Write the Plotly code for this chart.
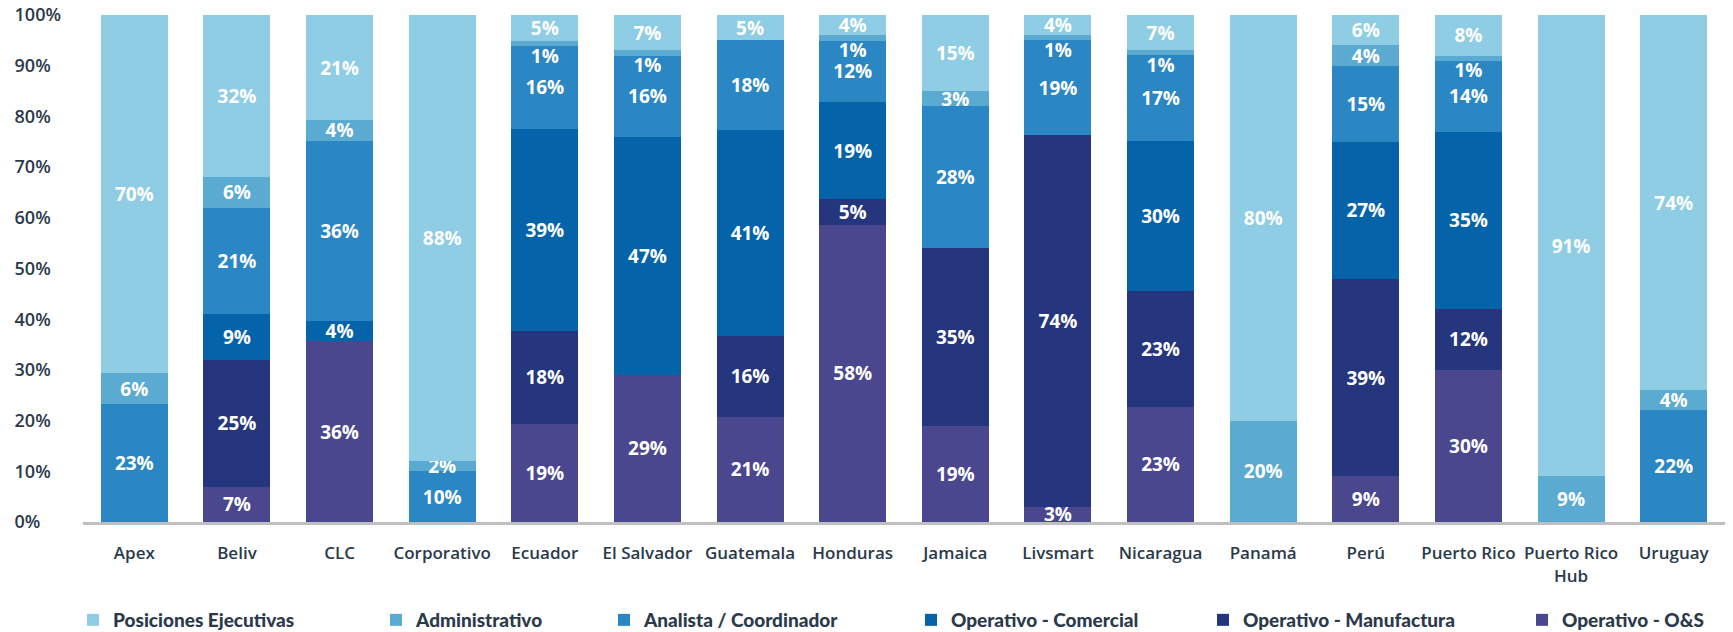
import plotly.graph_objects as go

categories = ["Apex", "Beliv", "CLC", "Corporativo", "Ecuador", "El Salvador", "Guatemala",
              "Honduras", "Jamaica", "Livsmart", "Nicaragua", "Panamá", "Perú", "Puerto Rico",
              "Puerto Rico<br>Hub", "Uruguay"]

operativo_os = [0, 7, 36, 0, 19, 29, 21, 58, 19, 3, 23, 0, 9, 30, 0, 0]
operativo_manufactura = [0, 25, 0, 0, 18, 0, 16, 5, 35, 74, 23, 0, 39, 12, 0, 0]
operativo_comercial = [0, 9, 4, 0, 39, 47, 41, 19, 0, 0, 30, 0, 27, 35, 0, 0]
analista_coordinador = [23, 21, 36, 10, 16, 16, 18, 12, 28, 19, 17, 0, 15, 14, 0, 22]
administrativo = [6, 6, 4, 2, 1, 1, 0, 1, 3, 1, 1, 20, 4, 1, 9, 4]
posiciones_ejecutivas = [70, 32, 21, 88, 5, 7, 5, 4, 15, 4, 7, 80, 6, 8, 91, 74]

series = [
    ("Operativo - O&S", operativo_os, "#4A478F"),
    ("Operativo - Manufactura", operativo_manufactura, "#26367E"),
    ("Operativo - Comercial", operativo_comercial, "#0563AA"),
    ("Analista / Coordinador", analista_coordinador, "#2A87C3"),
    ("Administrativo", administrativo, "#5BAAD1"),
    ("Posiciones Ejecutivas", posiciones_ejecutivas, "#8ECDE4"),
]

# legend placement (left edge in px, container)
legend_left_px = {
    "Posiciones Ejecutivas": 73,
    "Administrativo": 376,
    "Analista / Coordinador": 604,
    "Operativo - Comercial": 911,
    "Operativo - Manufactura": 1203,
    "Operativo - O&S": 1522,
}

W, H = 1733, 632
text_color = "#2B3A4B"


def label(v, nudge_down):
    if not v:
        return ""
    # very thin segments: drop the label slightly so it doesn't collide with the one above
    if nudge_down and v <= 1:
        return f"\u00a0<br>{v}%"
    return f"{v}%"


fig = go.Figure()
legend_ids = {}
for i, (name, vals, color) in enumerate(series):
    lid = "legend" if i == 0 else f"legend{i+1}"
    legend_ids[name] = lid
    fig.add_trace(go.Bar(
        x=categories,
        y=[v if v else None for v in vals],
        name=name,
        marker=dict(color=color, line=dict(width=0)),
        text=[label(v, name == "Administrativo") for v in vals],
        textposition="inside",
        insidetextanchor="middle",
        textangle=0,
        constraintext="none",
        textfont=dict(family="Open Sans", size=19, color="white", weight="bold"),
        legend=lid,
        hoverinfo="x+y+name",
    ))

layout_legends = {}
for name, lid in legend_ids.items():
    layout_legends[lid] = dict(
        xref="container", yref="container",
        x=legend_left_px[name] / W, xanchor="left",
        y=1 - 620 / H, yanchor="middle",
        orientation="h",
        font=dict(family="Lato", size=19, color=text_color, weight=900),
        bgcolor="rgba(0,0,0,0)",
    )

ticktext = ["0%\u2007\u2007"] + [f"{v}%\u2007" for v in range(10, 100, 10)] + ["100%"]

fig.update_layout(
    width=W, height=H,
    barmode="stack",
    barnorm="percent",
    bargap=0.347,
    plot_bgcolor="white",
    paper_bgcolor="white",
    margin=dict(l=83, r=8, t=15, b=110, autoexpand=False),
    uniformtext=dict(minsize=19, mode="show"),
    showlegend=True,
    **layout_legends,
)
fig.update_xaxes(
    automargin=False,
    showgrid=False, zeroline=False,
    showline=True, linecolor="#BFBFBF", linewidth=3,
    ticks="", ticklabelstandoff=14,
    tickfont=dict(family="Open Sans", size=17, color=text_color, weight=600),
)
fig.update_yaxes(
    automargin=False,
    range=[0, 100], showgrid=False, zeroline=False, showline=False,
    tickmode="array", tickvals=list(range(0, 101, 10)), ticktext=ticktext,
    ticks="", ticklabelstandoff=21,
    tickfont=dict(family="Open Sans", size=18, color=text_color, weight=600),
)

fig.write_html("out.html")
